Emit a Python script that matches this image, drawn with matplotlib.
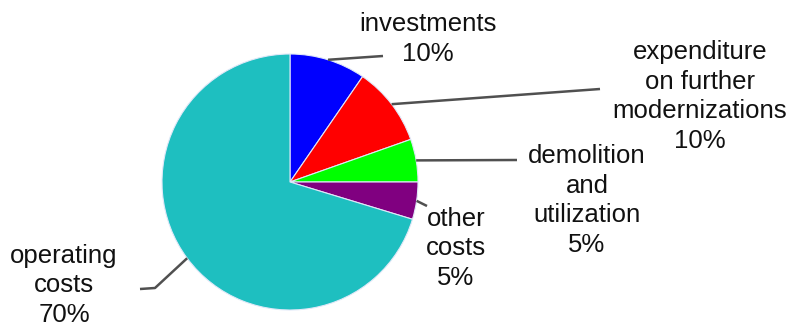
import numpy as np
import matplotlib
matplotlib.use("Agg")
import matplotlib.pyplot as plt

# ----------------------------
# Data
# ----------------------------
categories = ["investments", "expenditure\non further\nmodernizations",
              "demolition\nand\nutilization", "other\ncosts", "operating\ncosts"]
shares = [9.6, 10.0, 5.4, 4.7, 70.3]
pct_labels = ["10%", "10%", "5%", "5%", "70%"]
colors = ["#0000ff", "#ff0000", "#00ff00", "#800080", "#1ebfc0"]

# ----------------------------
# Layout (pixel coordinates, y from the top; text y = last baseline)
# ----------------------------
W, H = 793, 328
center_px = (290, 182)
radius = 128
text_pos = [(428, 61), (700, 148), (587, 252), (456, 285), (64, 322)]
leader_ends = [[(383, 56)], [(600, 89)], [(517, 160)], [(427, 206)],
               [(155, 288), (140, 289)]]


def to_data(p):
    return (p[0], H - p[1])


fig = plt.figure(figsize=(W / 100, H / 100), dpi=100)
ax = fig.add_axes([0, 0, 1, 1])

cx, cy = to_data(center_px)
wedges, _ = ax.pie(shares, colors=colors, startangle=90, counterclock=False,
                   center=(cx, cy), radius=radius, frame=True,
                   wedgeprops=dict(edgecolor="#e0e8f8", linewidth=0.8))
ax.set_xlim(0, W)
ax.set_ylim(0, H)
ax.set_aspect("equal")
ax.axis("off")

for w, cat, pct, tp, ends in zip(wedges, categories, pct_labels, text_pos, leader_ends):
    mid = np.deg2rad((w.theta1 + w.theta2) / 2)
    start = (cx + radius * np.cos(mid), cy + radius * np.sin(mid))
    pts = [start] + [to_data(p) for p in ends]
    xs, ys = zip(*pts)
    ax.plot(xs, ys, color="#505050", lw=1.8, solid_capstyle="butt")
    tx, ty = to_data(tp)
    ax.text(tx, ty, cat + "\n" + pct, ha="center", va="baseline",
            fontsize=18.5, family="Liberation Sans", color="#111111",
            linespacing=1.3)

fig.savefig("out.png", dpi=100)
